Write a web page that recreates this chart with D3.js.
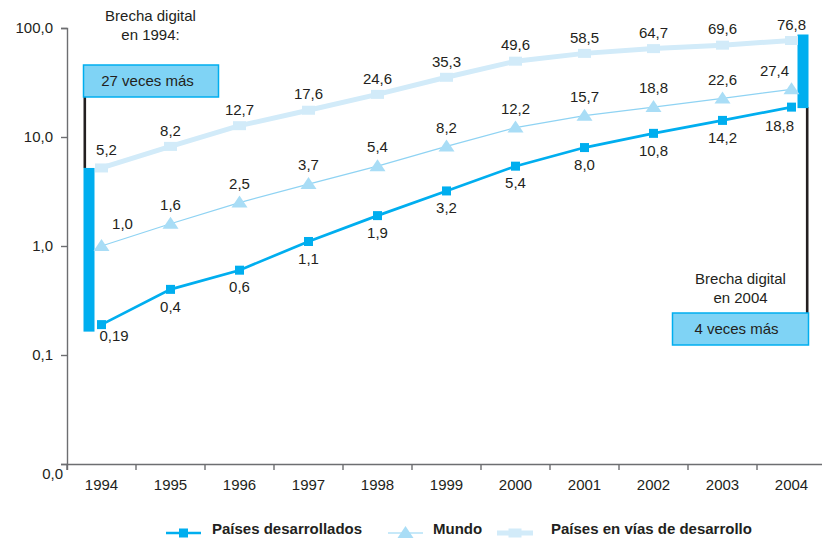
<!DOCTYPE html>
<html>
<head>
<meta charset="utf-8">
<script src="https://cdn.jsdelivr.net/npm/d3@7"></script>
<style>
  body { margin: 0; background: #fff; }
  text { font-family: "Liberation Sans", Arial, sans-serif; fill: #231f20; }
</style>
</head>
<body>
<div id="GraphHolder"></div>
<script>
// data
var years = ["1994", "1995", "1996", "1997", "1998", "1999", "2000", "2001", "2002", "2003", "2004"];
var desarrollados = [0.19, 0.4, 0.6, 1.1, 1.9, 3.2, 5.4, 8.0, 10.8, 14.2, 18.8];
var mundo = [1.0, 1.6, 2.5, 3.7, 5.4, 8.2, 12.2, 15.7, 18.8, 22.6, 27.4];
var enDesarrollo = [5.2, 8.2, 12.7, 17.6, 24.6, 35.3, 49.6, 58.5, 64.7, 69.6, 76.8];
var yTicks = [0.01, 0.1, 1, 10, 100];
var seriesNames = ["Países desarrollados", "Mundo", "Países en vías de desarrollo"];
var gapStart = {text: ["Brecha digital", "en 1994:"], box: "27 veces más"};
var gapEnd = {text: ["Brecha digital", "en 2004"], box: "4 veces más"};

var width = 822, height = 538;
var cDev = "#00aeef", cWorld = "#a9ddf6", cWorldLine = "#8fd3f3", cDevg = "#d2ebf9", cBox = "#7fd3f5";

var svg = d3.select("#GraphHolder").append("svg")
    .attr("width", width)
    .attr("height", height);

// scales
var x = d3.scaleBand().domain(years).range([67, 826]).padding(0);
var bw = x.bandwidth();
var xc = function(i) { return x(years[i]) + bw / 2; };
var y = d3.scaleLog().domain([0.01, 100]).range([464, 28]);

var numFmt = function(v) {
    var s = Math.abs(Math.round(v * 10) - v * 10) < 1e-9 ? v.toFixed(1) : v.toFixed(2);
    return s.replace(".", ",");
};

// axes
var yAxis = d3.axisLeft(y).tickValues(yTicks).tickSizeOuter(0).tickSize(6).tickPadding(8)
    .tickFormat(function(d) { return d3.format(".1f")(d).replace(".", ","); });
var gy = svg.append("g").attr("class", "yaxis")
    .attr("transform", "translate(67,0)")
    .call(yAxis);
gy.selectAll("text").style("font-size", "15px");
gy.selectAll(".tick").filter(function(d) { return d === 0.01; }).select("text")
    .attr("x", -4).attr("dy", "0.95em");

var xAxis = d3.axisBottom(x).tickSizeOuter(0).tickSize(6).tickPadding(9);
var gx = svg.append("g").attr("class", "xaxis")
    .attr("transform", "translate(0,464)")
    .call(xAxis);
gx.selectAll(".tick line").attr("x1", -bw / 2).attr("x2", -bw / 2);
gx.selectAll("text").style("font-size", "15px");

svg.selectAll(".domain, .tick line").attr("stroke", "#6d6e71").attr("stroke-width", 1.4);
svg.selectAll(".tick text").attr("fill", "#231f20");

// annotations: gap 1994 (left)
var ax0 = xc(0) - 18;
svg.append("line")
    .attr("x1", ax0 + 1.3).attr("x2", ax0 + 1.3)
    .attr("y1", 97).attr("y2", y(enDesarrollo[0]))
    .attr("stroke", "#231f20").attr("stroke-width", 2.6);
svg.append("rect")
    .attr("x", ax0).attr("width", 11)
    .attr("y", y(enDesarrollo[0])).attr("height", y(desarrollados[0]) + 7 - y(enDesarrollo[0]))
    .attr("fill", cDev);
svg.append("rect")
    .attr("x", ax0).attr("y", 65).attr("width", 135).attr("height", 32)
    .attr("fill", cBox).attr("stroke", cDev).attr("stroke-width", 1.5);
svg.append("text").attr("x", ax0 + 64).attr("y", 81).attr("dy", "0.35em")
    .attr("text-anchor", "middle").style("font-size", "15px").text(gapStart.box);
svg.selectAll(".gap0").data(gapStart.text).enter().append("text")
    .attr("x", ax0 + 67).attr("y", function(d, i) { return 16 + i * 19; })
    .attr("dy", "0.35em").attr("text-anchor", "middle").style("font-size", "15px")
    .text(function(d) { return d; });

// annotations: gap 2004 (right)
var ax1 = xc(10) + 17;
svg.append("line")
    .attr("x1", ax1 - 1.3).attr("x2", ax1 - 1.3)
    .attr("y1", y(desarrollados[10])).attr("y2", 313)
    .attr("stroke", "#231f20").attr("stroke-width", 2.6);
svg.append("rect")
    .attr("x", ax1 - 11).attr("width", 11)
    .attr("y", y(enDesarrollo[10]) - 6).attr("height", y(desarrollados[10]) + 1 - (y(enDesarrollo[10]) - 6))
    .attr("fill", cDev);
svg.append("rect")
    .attr("x", ax1 - 136).attr("y", 313).attr("width", 136).attr("height", 32)
    .attr("fill", cBox).attr("stroke", cDev).attr("stroke-width", 1.5);
svg.append("text").attr("x", ax1 - 72).attr("y", 329).attr("dy", "0.35em")
    .attr("text-anchor", "middle").style("font-size", "15px").text(gapEnd.box);
svg.selectAll(".gap1").data(gapEnd.text).enter().append("text")
    .attr("x", ax1 - 68).attr("y", function(d, i) { return 279 + i * 19; })
    .attr("dy", "0.35em").attr("text-anchor", "middle").style("font-size", "15px")
    .text(function(d) { return d; });

// lines
var line = d3.line().x(function(d, i) { return xc(i); }).y(function(d) { return y(d); });

svg.append("path").datum(enDesarrollo).attr("d", line)
    .attr("fill", "none").attr("stroke", cDevg).attr("stroke-width", 5);
svg.append("path").datum(mundo).attr("d", line)
    .attr("fill", "none").attr("stroke", cWorldLine).attr("stroke-width", 1.2);
svg.append("path").datum(desarrollados).attr("d", line)
    .attr("fill", "none").attr("stroke", cDev).attr("stroke-width", 2.7);

// markers
var tri = "M0,-7L8,5L-8,5Z";
svg.selectAll(".pt-devg").data(enDesarrollo).enter().append("rect")
    .attr("x", function(d, i) { return xc(i) - 6.5; })
    .attr("y", function(d) { return y(d) - 4.5; })
    .attr("width", 13).attr("height", 9).attr("fill", cDevg);
svg.selectAll(".pt-world").data(mundo).enter().append("path")
    .attr("d", tri)
    .attr("transform", function(d, i) { return "translate(" + xc(i) + "," + y(d) + ")"; })
    .attr("fill", cWorld);
svg.selectAll(".pt-dev").data(desarrollados).enter().append("rect")
    .attr("x", function(d, i) { return xc(i) - 4.5; })
    .attr("y", function(d) { return y(d) - 4.5; })
    .attr("width", 9).attr("height", 9).attr("fill", cDev);

// value labels
function labels(data, dx, dy, anchor) {
    svg.append("g").selectAll("text").data(data).enter().append("text")
        .attr("x", function(d, i) { return xc(i) + dx(i); })
        .attr("y", function(d, i) { return y(d) + dy(i); })
        .attr("dy", "0.35em")
        .attr("text-anchor", function(d, i) { return anchor(i); })
        .style("font-size", "15px")
        .text(numFmt);
}
var last = years.length - 1;
labels(enDesarrollo,
    function(i) { return i === 0 ? 5 : 0; },
    function(i) { return i === 0 ? -18 : -16; },
    function() { return "middle"; });
labels(mundo,
    function(i) { return i === 0 ? 21 : (i === last ? -17 : 0); },
    function(i) { return i === 0 ? -22 : -19; },
    function() { return "middle"; });
labels(desarrollados,
    function(i) { return i === 0 ? -2 : (i === last ? -12 : 0); },
    function(i) { return i === 0 ? 11 : (i === last ? 19 : 17); },
    function(i) { return i === 0 ? "start" : "middle"; });

// legend
var legend = [
    {name: seriesNames[0], x0: 166, x1: 201, tx: 212, color: cDev, w: 2.7, mark: "sq"},
    {name: seriesNames[1], x0: 388, x1: 423, tx: 433, color: cWorldLine, w: 1.2, mark: "tri"},
    {name: seriesNames[2], x0: 497, x1: 533, tx: 551, color: cDevg, w: 5, mark: "rect"}
];
var lg = svg.selectAll(".legend").data(legend).enter().append("g").attr("class", "legend");
lg.append("line")
    .attr("x1", function(d) { return d.x0; }).attr("x2", function(d) { return d.x1; })
    .attr("y1", 533).attr("y2", 533)
    .attr("stroke", function(d) { return d.color; })
    .attr("stroke-width", function(d) { return d.w; });
lg.each(function(d) {
    var g = d3.select(this), cx = (d.x0 + d.x1) / 2;
    if (d.mark === "sq") {
        g.append("rect").attr("x", cx - 4.5).attr("y", 528.5).attr("width", 9).attr("height", 9).attr("fill", cDev);
    } else if (d.mark === "tri") {
        g.append("path").attr("d", tri).attr("transform", "translate(" + cx + ",533)").attr("fill", cWorld);
    } else {
        g.append("rect").attr("x", cx - 6.5).attr("y", 528.5).attr("width", 13).attr("height", 9).attr("fill", cDevg);
    }
});
lg.append("text")
    .attr("x", function(d) { return d.tx; }).attr("y", 534)
    .style("font-size", "15px").style("font-weight", "bold")
    .text(function(d) { return d.name; });
</script>
</body>
</html>
